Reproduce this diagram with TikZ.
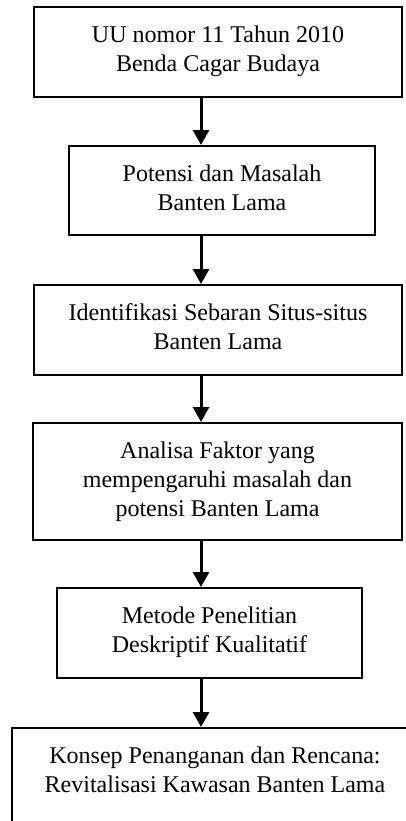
\documentclass[tikz,border=0pt]{standalone}
\usepackage{fontspec}
\setmainfont{Liberation Serif}
\usetikzlibrary{positioning,arrows.meta}

\begin{document}
\begin{tikzpicture}[x=1pt,y=-1pt,
  box/.style={draw,line width=1pt,inner sep=0pt},
  txt/.style={align=center,inner sep=0pt,font=\fontsize{12}{14.5}\selectfont},
  arrow/.style={line width=1.5pt,-{Triangle[width=8pt,length=7.5pt]}}]
\useasboundingbox (0,0) rectangle (203,410.5);
\clip (0,0) rectangle (203,410.5);
% kotak
\node[box] (b1) [minimum width=184pt, minimum height=45pt] at (109,26) {};
\node[box] (b2) [minimum width=153pt, minimum height=44.5pt] at (111,95.25) {};
\node[box] (b3) [minimum width=184pt, minimum height=45pt] at (109,165) {};
\node[box] (b4) [minimum width=184.5pt, minimum height=58.5pt] at (108.75,240.75) {};
\node[box] (b5) [minimum width=152.5pt, minimum height=45pt] at (104.75,316.5) {};
\node[box] (b6) [minimum width=203pt, minimum height=56pt] at (107.5,392) {};
% teks
\node[txt] (t1) [below=9.5pt of b1.north] {UU nomor 11 Tahun 2010\\Benda Cagar Budaya};
\node[txt] (t2) [below=9.5pt of b2.north] {Potensi dan Masalah\\Banten Lama};
\node[txt] (t3) [below=9.5pt of b3.north] {Identifikasi Sebaran Situs-situs\\Banten Lama};
\node[txt] (t4) [below=9.5pt of b4.north] {Analisa Faktor yang\\mempengaruhi masalah dan\\potensi Banten Lama};
\node[txt] (t5) [below=9.5pt of b5.north] {Metode Penelitian\\Deskriptif Kualitatif};
\node[txt] (t6) [below=9.5pt of b6.north] {Konsep Penanganan dan Rencana:\\Revitalisasi Kawasan Banten Lama};
% panah
\coordinate (ax) at (100.5,0);
\path[arrow]
(b1.south -| ax) edge (b2.north -| ax)
(b2.south -| ax) edge (b3.north -| ax)
(b3.south -| ax) edge (b4.north -| ax)
(b4.south -| ax) edge (b5.north -| ax)
(b5.south -| ax) edge (b6.north -| ax);
\end{tikzpicture}
\end{document}
